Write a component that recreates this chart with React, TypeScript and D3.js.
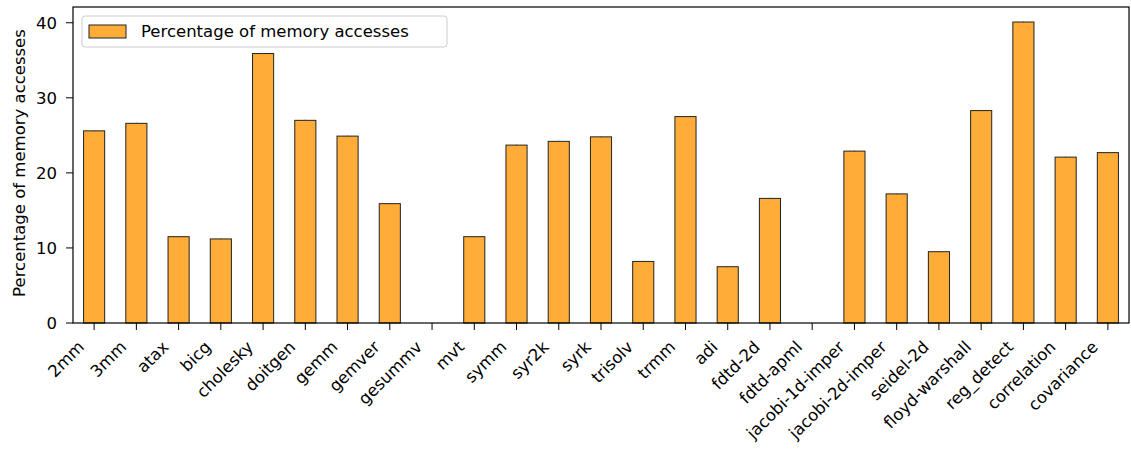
import React from "react";
import * as d3 from "d3";

const categories = ["2mm","3mm","atax","bicg","cholesky","doitgen","gemm","gemver","gesummv","mvt","symm","syr2k","syrk","trisolv","trmm","adi","fdtd-2d","fdtd-apml","jacobi-1d-imper","jacobi-2d-imper","seidel-2d","floyd-warshall","reg_detect","correlation","covariance"];
const values = [25.6,26.6,11.5,11.2,35.9,27.0,24.9,15.9,0,11.5,23.7,24.2,24.8,8.2,27.5,7.5,16.6,0,22.9,17.2,9.5,28.3,40.1,22.1,22.7];
const errors = [0.1,0.1,0.1,0.1,0.1,0.1,0.1,0.1,0,0.1,0.1,0.1,0.1,0.1,0.1,0.1,0.1,0,0.1,0.1,0.1,0.1,0.1,0.1,0.1];
const yTicks = [0,10,20,30,40];
const seriesName = "Percentage of memory accesses";
const yLabel = "Percentage of memory accesses";

const W = 1131, H = 455;
const M = { left: 73, right: 2, top: 7, bottom: 132 };
const FONT = "'DejaVu Sans', sans-serif";
const FS = 16.5;
const FILL = "#ffac38";

export default function App() {
  const x0 = M.left, x1 = W - M.right, y0 = H - M.bottom, y1 = M.top;
  const x = d3.scaleLinear().domain([-0.5, categories.length - 0.5]).range([x0, x1]);
  const y = d3.scaleLinear().domain([0, 42.1]).range([y0, y1]);
  const bw = x(0.25) - x(-0.25);
  return (
    <svg width={W} height={H} style={{ position: "absolute", left: 0, top: 0, background: "#fff" }} fontFamily={FONT}>
      {values.map((v, i) => (
        <rect key={i} x={x(i) - bw / 2} y={y(v)} width={bw} height={y(0) - y(v)} fill={FILL} stroke="#222" strokeWidth={1} />
      ))}
      {values.map((v, i) => errors[i] > 0 ? (
        <g key={"e" + i} stroke="#555" strokeWidth={0.8}>
          <line x1={x(i)} x2={x(i)} y1={y(v - errors[i])} y2={y(v + errors[i])} />
        </g>
      ) : null)}
      <rect x={x0} y={y1} width={x1 - x0} height={y0 - y1} fill="none" stroke="#000" strokeWidth={1.2} />
      {yTicks.map(t => (
        <g key={t}>
          <line x1={x0 - 7} x2={x0} y1={y(t)} y2={y(t)} stroke="#000" strokeWidth={1} />
          <text x={x0 - 16} y={y(t)} dy="0.35em" textAnchor="end" fontSize={FS}>{t}</text>
        </g>
      ))}
      {categories.map((c, i) => (
        <g key={c}>
          <line x1={x(i)} x2={x(i)} y1={y0} y2={y0 + 7} stroke="#000" strokeWidth={1} />
          <text transform={`translate(${x(i) - 9},${y0 + 25}) rotate(-45)`} textAnchor="end" fontSize={FS}>{c}</text>
        </g>
      ))}
      <text transform={`translate(25,163) rotate(-90)`} textAnchor="middle" fontSize={FS}>{yLabel}</text>
      <g>
        <rect x={82} y={16} width={365} height={31} rx={3} fill="#fff" fillOpacity={0.8} stroke="#ccc" strokeWidth={1} />
        <rect x={89} y={25} width={37} height={13} fill={FILL} stroke="#222" strokeWidth={1} />
        <text x={141} y={31.5} dy="0.35em" fontSize={FS}>{seriesName}</text>
      </g>
    </svg>
  );
}
